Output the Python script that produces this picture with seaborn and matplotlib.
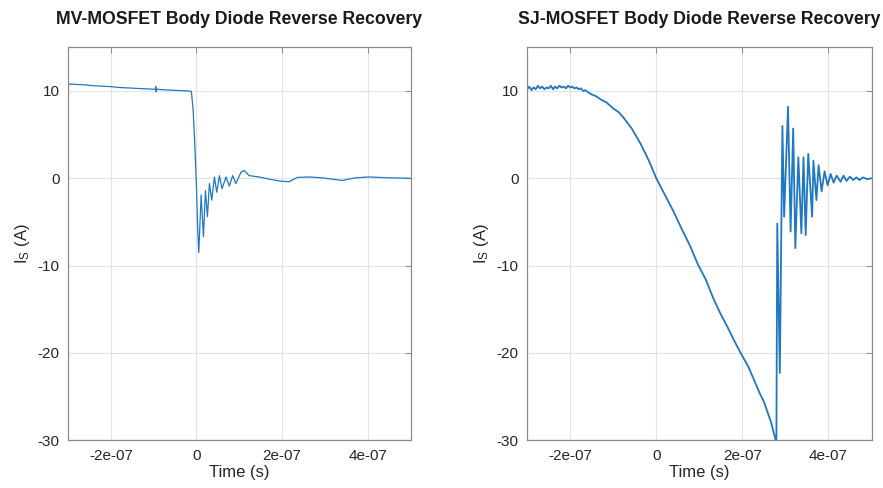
import numpy as np
import pandas as pd
import seaborn as sns
import matplotlib.pyplot as plt

# MV-MOSFET waveform (time in ns, current in A)
mv_t = [-300, -280, -260, -240, -220, -200, -180, -160, -140, -120, -100, -96, -95, -94, -93,
        -80, -60, -40, -20, -12, -8, -4, 0, 3, 5.4, 10.9, 16.3, 20.9, 25.6, 30.2, 35.7, 41.9,
        47.3, 53.5, 59.7, 69, 76.7, 84.5, 92, 104, 111.6, 123, 146.5, 170, 193, 216, 235.6,
        262.8, 293.7, 340, 371, 402, 450, 500]
mv_i = [10.8, 10.75, 10.7, 10.6, 10.55, 10.5, 10.4, 10.35, 10.3, 10.25, 10.2, 10.2, 10.5, 9.9, 10.2,
        10.15, 10.1, 10.05, 10.0, 9.95, 8.0, 4.0, -1.0, -6.0, -8.5, -1.9, -6.7, -1.4, -4.4, -0.6, -2.5, 0.15,
        -1.6, 0.3, -1.2, 0.15, -0.9, 0.3, -0.6, 0.7, 0.9, 0.3, 0.15, -0.1, -0.3, -0.4, 0.1,
        0.15, 0.05, -0.25, 0.05, 0.15, 0.05, 0.0]

# SJ-MOSFET waveform (time in ns, current in A)
sj_t = [-300, -295, -290, -285, -280, -275, -270, -265, -260, -255, -250, -245, -240, -235, -230,
        -225, -220, -215, -210, -205, -200, -195, -190, -185, -180, -175, -170, -165, -160, -150,
        -140, -128, -116, -100, -88, -77, -57, -37, -18, 0, 20, 40, 60, 79, 97, 115, 132, 149,
        165, 180, 197, 214, 228, 240, 250, 260, 267, 272, 276, 279, 281, 287, 293, 297, 306,
        312, 318, 323, 330, 337, 342, 347, 353, 362, 365, 372, 377, 384, 391, 398, 405, 412,
        419, 428, 435, 442, 450, 457, 465, 472, 480, 490, 500]
sj_i = [10.2, 10.5, 10.1, 10.4, 10.2, 10.6, 10.3, 10.5, 10.2, 10.4, 10.3, 10.6, 10.2, 10.5, 10.3,
        10.6, 10.4, 10.5, 10.3, 10.6, 10.4, 10.5, 10.3, 10.4, 10.2, 10.3, 10.0, 10.1, 9.9, 9.6,
        9.4, 9.0, 8.7, 8.0, 7.6, 7.0, 5.7, 4.0, 2.1, 0.0, -1.9, -3.8, -5.9, -7.8, -9.9, -11.6, -13.7, -15.5,
        -17.0, -18.5, -20.1, -21.6, -23.2, -24.6, -25.6, -27.0, -28.0, -29.0, -29.7, -30.5, -5.2, -22.3, 6.0, -4.4, 8.2,
        -6.1, 5.7, -8.0, 2.4, -6.3, 2.4, -6.5, 2.8, -4.4, 2.0, -2.5, 1.5, -1.5, 0.8, -0.8, 0.5, -0.5,
        0.3, -0.4, 0.3, -0.3, 0.2, -0.2, 0.1, -0.2, 0.1, -0.1, 0.0]

titles = ["MV-MOSFET Body Diode Reverse Recovery", "SJ-MOSFET Body Diode Reverse Recovery"]
xticks = [-2e-7, 0, 2e-7, 4e-7]
xtick_labels = ["-2e-07", "0", "2e-07", "4e-07"]
yticks = [-30, -20, -10, 0, 10]

mv = pd.DataFrame({"t": np.array(mv_t) * 1e-9, "i": mv_i})
sj = pd.DataFrame({"t": np.array(sj_t) * 1e-9, "i": sj_i})

sns.set_style("white")
plt.rcParams['font.family'] = ['Liberation Sans', 'DejaVu Sans']
plt.rcParams['mathtext.fontset'] = 'custom'
plt.rcParams['mathtext.rm'] = 'Liberation Sans'
plt.rcParams['mathtext.it'] = 'Liberation Sans'
plt.rcParams['axes.unicode_minus'] = False

fig = plt.figure(figsize=(8.83, 4.88), dpi=100)
ax1 = fig.add_axes([0.077, 0.098, 0.388, 0.805])
ax2 = fig.add_axes([0.597, 0.098, 0.390, 0.805])

for ax, df, title, lw in [(ax1, mv, titles[0], 0.9), (ax2, sj, titles[1], 1.3)]:
    sns.lineplot(data=df, x="t", y="i", ax=ax, color="#1f78c1", linewidth=lw,
                 estimator=None, sort=False)
    ax.set_xlim(-3e-7, 5e-7)
    ax.set_ylim(-30, 15)
    ax.set_xticks(xticks)
    ax.set_xticklabels(xtick_labels)
    ax.set_yticks(yticks)
    ax.grid(True, color="#e3e3e3", linewidth=0.8)
    ax.tick_params(direction="in", top=True, right=True, length=4, width=0.7,
                   labelsize=11, colors="#8a8a8a", labelcolor="#262626", pad=6)
    for s in ax.spines.values():
        s.set_color("#8a8a8a")
        s.set_linewidth(0.9)
    ax.set_xlabel("Time (s)", fontsize=12, color="#262626", labelpad=2)
    ax.set_ylabel(r"I$_{\rm S}$ (A)", fontsize=12, color="#262626", labelpad=4)
    ax.set_title(title, fontsize=12.7, fontweight="bold", color="#1a1a1a", pad=17)

fig.savefig("out.png", dpi=100)
